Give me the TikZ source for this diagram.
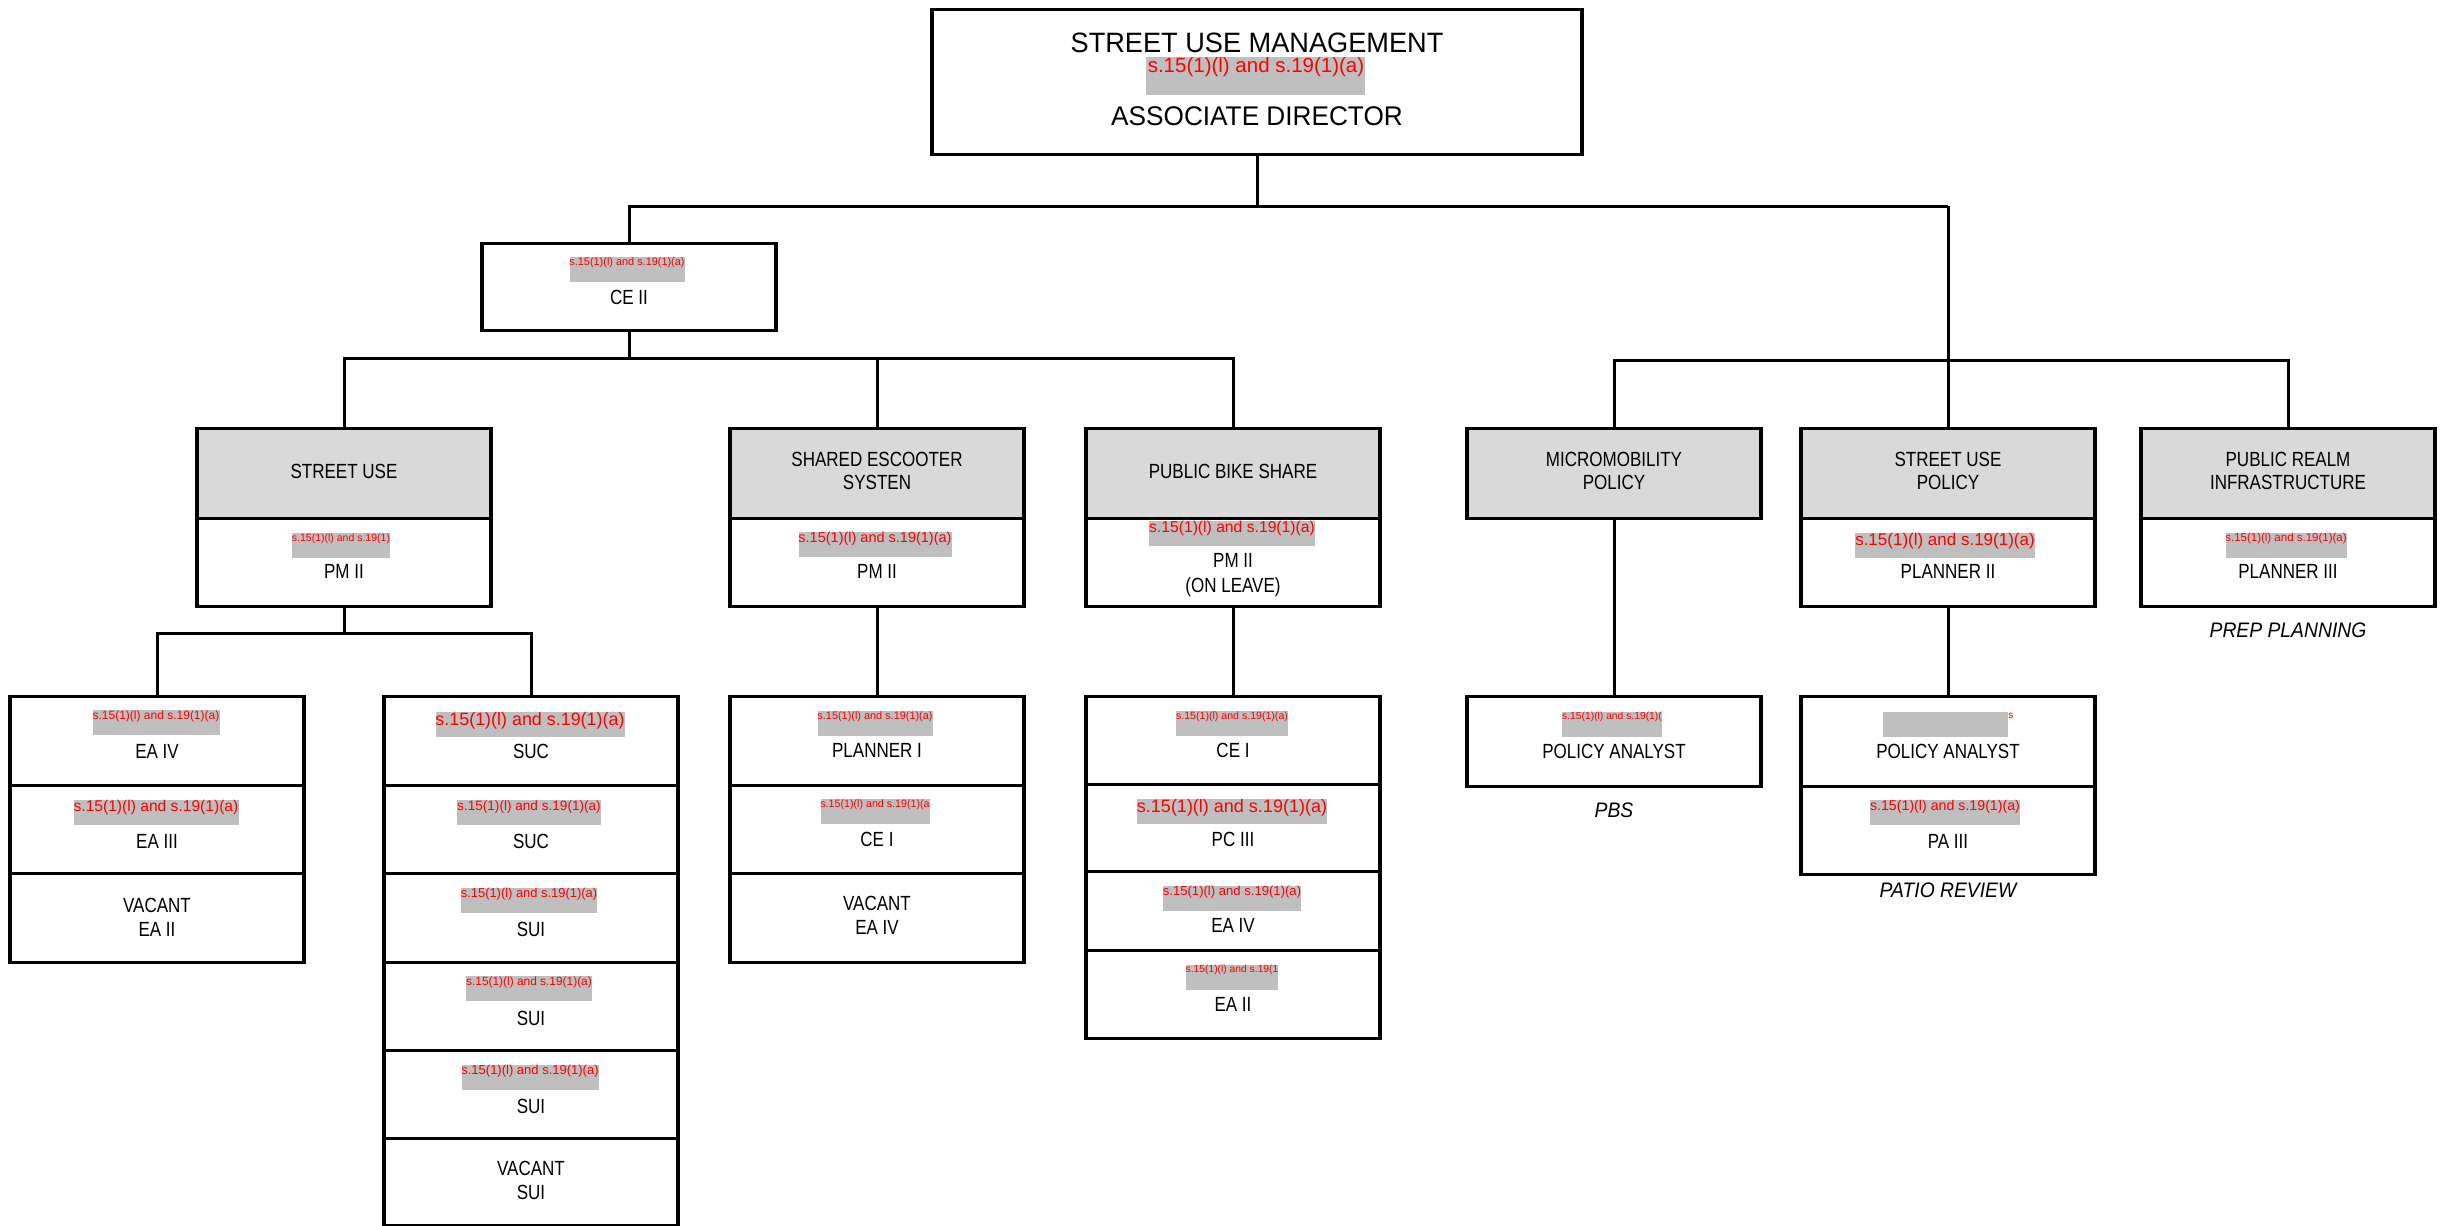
\documentclass[tikz,border=0pt]{standalone}
\usepackage{fontspec}
\setmainfont{Liberation Sans}
\newfontfamily\labfont[FakeStretch=0.83]{Liberation Sans}
\newfontfamily\ttlfont[FakeStretch=0.97]{Liberation Sans}
\newfontfamily\annfont[FakeStretch=0.92]{Liberation Sans}
\usetikzlibrary{calc}
\definecolor{hdr}{HTML}{D9D9D9}
\definecolor{redactgray}{HTML}{BFBFBF}
\definecolor{redtext}{HTML}{FF0000}
\tikzset{
 cell/.style={draw, line width=1.7pt, minimum width=147pt, inner sep=0pt, anchor=north, fill=white},
 hcell/.style={cell, fill=hdr, minimum height=45pt},
 conn/.style={line width=1.5pt},
 lab/.style={font=\labfont\fontsize{10.25}{12}\selectfont, anchor=base, inner sep=0pt},
 ttl/.style={font=\ttlfont\fontsize{13.5}{16}\selectfont, anchor=base, inner sep=0pt},
 ann/.style={font=\annfont\itshape\fontsize{10.5}{12}\selectfont, anchor=base, inner sep=0pt},
 rtxt/.style={text=redtext, anchor=north, inner sep=0pt},
}
% name, cx, top, width(px), font size(pt), text
\newcommand\redbar[6]{%
 \fill[redactgray] ({#2-#4/2},{#3}) rectangle ({#2+#4/2},{#3+25});
 \node[rtxt, font=\fontsize{#5}{#5}\selectfont] (#1) at (#2,#3) {#6};}
\begin{document}
\begin{tikzpicture}[x=0.5pt,y=-0.5pt]
\useasboundingbox (0,0) rectangle (2443,1226);
\fill[white] (0,0) rectangle (2443,1226);

% ---------- boxes ----------
\node[cell, minimum width=325pt, minimum height=72.5pt] (top) at (1257,8) {};
\node[cell, minimum height=43.5pt] (ce2) at (629,242) {};

\node[hcell] (su)  at (344,427) {};
\node[hcell] (esc) at (877,427) {};
\node[hcell] (pbs) at (1233,427) {};
\node[hcell] (mic) at (1614,427) {};
\node[hcell] (sup) at (1948,427) {};
\node[hcell] (pr)  at (2288,427) {};

\node[cell, minimum height=44pt] (suc)  at (344,517) {};
\node[cell, minimum height=44pt] (escc) at (877,517) {};
\node[cell, minimum height=44pt] (pbsc) at (1233,517) {};
\node[cell, minimum height=44pt] (supc) at (1948,517) {};
\node[cell, minimum height=44pt] (prc)  at (2288,517) {};

\node[cell, minimum height=44.5pt] (ea1) at (157,695) {};
\node[cell, minimum height=44pt]   (ea2) at (157,784) {};
\node[cell, minimum height=44.5pt] (ea3) at (157,872) {};

\node[cell, minimum height=44.5pt] (s1) at (531,695) {};
\node[cell, minimum height=44pt]   (s2) at (531,784) {};
\node[cell, minimum height=44.5pt] (s3) at (531,872) {};
\node[cell, minimum height=44pt]   (s4) at (531,961) {};
\node[cell, minimum height=44pt]   (s5) at (531,1049) {};
\node[cell, minimum height=43.5pt] (s6) at (531,1137) {};

\node[cell, minimum height=44.5pt] (e1) at (877,695) {};
\node[cell, minimum height=44pt]   (e2) at (877,784) {};
\node[cell, minimum height=44.5pt] (e3) at (877,872) {};

\node[cell, minimum height=44pt]   (p1) at (1233,695) {};
\node[cell, minimum height=43.5pt] (p2) at (1233,783) {};
\node[cell, minimum height=39.5pt] (p3) at (1233,870) {};
\node[cell, minimum height=44pt]   (p4) at (1233,949) {};

\node[cell, minimum height=45pt] (m1) at (1614,695) {};
\node[cell, minimum height=45pt] (u1) at (1948,695) {};
\node[cell, minimum height=44pt] (u2) at (1948,785) {};

% ---------- connectors ----------
\coordinate (j1) at (1257,206);
\coordinate (j1r) at (1948,206);
\coordinate (j2) at (1948,360);
\coordinate (j3) at (629,358);
\coordinate (j4) at (344,633);
\draw[conn] (top.south) -- (j1);
\draw[conn] (ce2.north) |- (j1r);
\draw[conn] (j1r) -- (sup.north);
\draw[conn] (mic.north) |- (j2);
\draw[conn] (pr.north) |- (j2);
\draw[conn] (ce2.south) -- (j3);
\draw[conn] (su.north) |- (j3);
\draw[conn] (j3) -| (pbs.north);
\draw[conn] (esc.north) -- (esc.north |- j3);
\draw[conn] (suc.south) -- (j4);
\draw[conn] (ea1.north) |- (j4);
\draw[conn] (j4) -| (s1.north);
\draw[conn] (escc.south) -- (e1.north);
\draw[conn] (pbsc.south) -- (p1.north);
\draw[conn] (mic.south) -- (m1.north);
\draw[conn] (supc.south) -- (u1.north);

% ---------- title ----------
\node[ttl, font=\ttlfont\fontsize{14}{16}\selectfont] (t1) at (1257,52) {STREET USE MANAGEMENT};
\fill[redactgray] (1146,57) rectangle (1365,95);
\node[rtxt, font=\fontsize{10.25}{11}\selectfont] (t2) at (1256,57) {s.15(1)(l) and s.19(1)(a)};
\node[ttl] (t3) at (1257,125) {ASSOCIATE DIRECTOR};

% CE II
\redbar{r0}{627}{257}{115}{5.45}{s.15(1)(l) and s.19(1)(a)}
\node[lab] (l0) at (629,304) {CE II};

% headers
\node[lab] (h1) at (344,478) {STREET USE};
\node[lab] (h2a) at (877,466) {SHARED ESCOOTER};
\node[lab] (h2b) at (877,489) {SYSTEN};
\node[lab] (h3) at (1233,478) {PUBLIC BIKE SHARE};
\node[lab] (h4a) at (1614,466) {MICROMOBILITY};
\node[lab] (h4b) at (1614,489) {POLICY};
\node[lab] (h5a) at (1948,466) {STREET USE};
\node[lab] (h5b) at (1948,489) {POLICY};
\node[lab] (h6a) at (2288,466) {PUBLIC REALM};
\node[lab] (h6b) at (2288,489) {INFRASTRUCTURE};

% second row
\redbar{r1}{341}{533}{98}{5.25}{s.15(1)(l) and s.19(1)}
\node[lab] (l1) at (344,578) {PM II};
\redbar{r2}{875}{532}{153}{7.25}{s.15(1)(l) and s.19(1)(a)}
\node[lab] (l2) at (877,578) {PM II};
\redbar{r3}{1232}{521}{166}{7.85}{s.15(1)(l) and s.19(1)(a)}
\node[lab] (l3a) at (1233,567) {PM II};
\node[lab] (l3b) at (1233,592) {(ON LEAVE)};
\redbar{r4}{1945}{533}{180}{8.5}{s.15(1)(l) and s.19(1)(a)}
\node[lab] (l4) at (1948,578) {PLANNER II};
\redbar{r5}{2286}{533}{121}{5.75}{s.15(1)(l) and s.19(1)(a)}
\node[lab] (l5) at (2288,578) {PLANNER III};
\node[ann] (a1) at (2288,637) {PREP PLANNING};

% EA column
\redbar{r6}{156}{710}{127}{6}{s.15(1)(l) and s.19(1)(a)}
\node[lab] (l6) at (157,758) {EA IV};
\redbar{r7}{156}{800}{165}{7.8}{s.15(1)(l) and s.19(1)(a)}
\node[lab] (l7) at (157,848) {EA III};
\node[lab] (l8a) at (157,912) {VACANT};
\node[lab] (l8b) at (157,936) {EA II};

% SUC column
\redbar{r9}{530}{712}{189}{8.95}{s.15(1)(l) and s.19(1)(a)}
\node[lab] (l9) at (531,758) {SUC};
\redbar{r10}{529}{800}{144}{6.8}{s.15(1)(l) and s.19(1)(a)}
\node[lab] (l10) at (531,848) {SUC};
\redbar{r11}{529}{888}{136}{6.45}{s.15(1)(l) and s.19(1)(a)}
\node[lab] (l11) at (531,936) {SUI};
\redbar{r12}{529}{976}{126}{5.95}{s.15(1)(l) and s.19(1)(a)}
\node[lab] (l12) at (531,1025) {SUI};
\redbar{r13}{530}{1065}{137}{6.5}{s.15(1)(l) and s.19(1)(a)}
\node[lab] (l13) at (531,1113) {SUI};
\node[lab] (l14a) at (531,1175) {VACANT};
\node[lab] (l14b) at (531,1199) {SUI};

% ESC column
\redbar{r15}{875}{711}{115}{5.45}{s.15(1)(l) and s.19(1)(a)}
\node[lab] (l15) at (877,757) {PLANNER I};
\redbar{r16}{875}{799}{109}{5.35}{s.15(1)(l) and s.19(1)(a}
\node[lab] (l16) at (877,846) {CE I};
\node[lab] (l17a) at (877,910) {VACANT};
\node[lab] (l17b) at (877,934) {EA IV};

% PBS column
\redbar{r18}{1232}{711}{112}{5.3}{s.15(1)(l) and s.19(1)(a)}
\node[lab] (l18) at (1233,757) {CE I};
\redbar{r19}{1232}{799}{190}{9}{s.15(1)(l) and s.19(1)(a)}
\node[lab] (l19) at (1233,846) {PC III};
\redbar{r20}{1232}{886}{138}{6.55}{s.15(1)(l) and s.19(1)(a)}
\node[lab] (l20) at (1233,932) {EA IV};
\redbar{r21}{1232}{965}{92}{5.15}{s.15(1)(l) and s.19(1}
\node[lab] (l21) at (1233,1011) {EA II};

% MIC
\redbar{r22}{1612}{712}{100}{5.15}{s.15(1)(l) and s.19(1)(}
\node[lab] (l22) at (1614,758) {POLICY ANALYST};
\node[ann] (a2) at (1614,817) {PBS};

% SUP
\fill[redactgray] (1883,712) rectangle (2008,737);
\node[text=redtext, anchor=north west, inner sep=0pt, font=\fontsize{5}{5}\selectfont] (r23) at (2008,713) {s};
\node[lab] (l23) at (1948,758) {POLICY ANALYST};
\redbar{r24}{1945}{800}{150}{7.1}{s.15(1)(l) and s.19(1)(a)}
\node[lab] (l24) at (1948,848) {PA III};
\node[ann] (a3) at (1948,897) {PATIO REVIEW};
\end{tikzpicture}
\end{document}
